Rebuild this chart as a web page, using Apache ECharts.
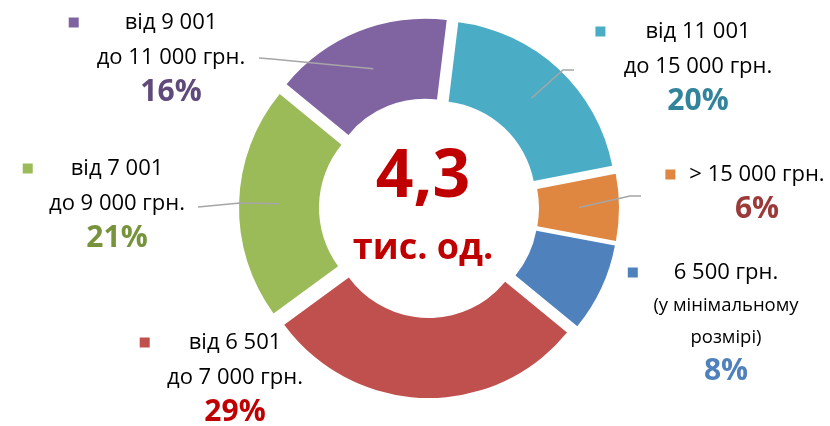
<!DOCTYPE html>
<html>
<head>
<meta charset="utf-8">
<script src="https://cdn.jsdelivr.net/npm/echarts@6/dist/echarts.min.js"></script>
<style>
  html, body { margin: 0; padding: 0; background: #fff; }
  #chart { width: 830px; height: 426px; }
</style>
</head>
<body>
<div id="chart"></div>
<script>
// slices, clockwise from the top
const categories = [
    ['від 11 001', 'до 15 000 грн.'],
    ['> 15 000 грн.'],
    ['6 500 грн.', '(у мінімальному', 'розмірі)'],
    ['від 6 501', 'до 7 000 грн.'],
    ['від 7 001', 'до 9 000 грн.'],
    ['від 9 001', 'до 11 000 грн.']
];
const shares = [20, 6, 8, 29, 21, 16];
const centerValue = '4,3';
const centerUnit = 'тис. од.';

const sliceColors = ['#4BACC6', '#DF8640', '#4F81BD', '#C0504D', '#9BBB59', '#8064A2'];
const pctColors = ['#31849B', '#9B3A38', '#4F81BD', '#C00000', '#77933C', '#604A7B'];

const FONT = '"Open Sans", "Noto Sans", sans-serif';
const CX = 429, CY = 208, R_IN = 99, R_OUT = 179, OFFSET = 11, ROT = 7;

// label block: text centre x, top y, gap between key and text
const labelBox = [
    { x: 698, y: 14, gap: 40 },
    { x: 757, y: 157, gap: 14 },
    { x: 726, y: 255, gap: 36 },
    { x: 235, y: 325, gap: 39 },
    { x: 117, y: 151, gap: 38 },
    { x: 171, y: 5, gap: 46 }
];
// leader line end near the label (null = no line)
const leaderEnds = [
    [[563, 70], [574, 70]],
    [[630, 196], [641, 196]],
    null,
    null,
    [[240, 203], [198, 207]],
    [[272, 59], [259, 58]]
];

function midAngle(i) {
    const total = shares.reduce(function (a, b) { return a + b; }, 0);
    let acc = 0;
    for (let k = 0; k < i; k++) acc += shares[k];
    return (ROT + (acc + shares[i] / 2) / total * 360) * Math.PI / 180;
}

function buildLabel(i) {
    const lines = categories[i];
    const box = labelBox[i];
    const rows = [];
    lines.forEach(function (txt, k) {
        const style = (i === 2 && k > 0) ? 's' : 't';
        if (k === 0) rows.push('{m| }{g| }{' + style + '|' + txt + '}{g2| }');
        else rows.push('{' + style + '|' + txt + '}');
    });
    rows.push('{p|' + shares[i] + '%}');
    return {
        show: true,
        position: 'outside',
        formatter: rows.join('\n'),
        rich: {
            m: { backgroundColor: sliceColors[i], width: 10, height: 10, fontSize: 1, lineHeight: 35 },
            g: { width: box.gap, fontSize: 1, lineHeight: 35 },
            g2: { width: box.gap + 10, fontSize: 1, lineHeight: 35 },
            t: { fontFamily: FONT, fontSize: 22, color: '#000', lineHeight: 35 },
            s: { fontFamily: FONT, fontSize: 18.5, color: '#000', lineHeight: 32 },
            p: { fontFamily: FONT, fontSize: 30, fontWeight: 'bold', color: pctColors[i], lineHeight: 34 }
        }
    };
}

const chart = echarts.init(document.getElementById('chart'), null, { renderer: 'canvas' });

chart.setOption({
    animation: false,
    graphic: [
        { type: 'text', x: 423, y: 178, style: { text: centerValue, font: 'bold 66px ' + FONT, fill: '#C00000', align: 'center', verticalAlign: 'middle' } },
        { type: 'text', x: 423, y: 249, style: { text: centerUnit, font: 'bold 36px ' + FONT, fill: '#C00000', align: 'center', verticalAlign: 'middle' } }
    ],
    series: [{
        // exploded ring
        type: 'pie',
        z: 2,
        center: [CX, CY],
        radius: [R_IN, R_OUT],
        startAngle: 90 - ROT,
        clockwise: true,
        selectedMode: 'multiple',
        selectedOffset: OFFSET,
        emphasis: { disabled: true },
        itemStyle: { borderWidth: 0 },
        label: { show: false },
        labelLine: { show: false },
        data: shares.map(function (v, i) {
            return { value: v, name: categories[i].join(' '), selected: true, itemStyle: { color: sliceColors[i] } };
        })
    }, {
        // invisible copy carrying the labels and leader lines
        type: 'pie',
        z: 5,
        silent: true,
        center: [CX, CY],
        radius: [R_IN, R_OUT],
        startAngle: 90 - ROT,
        clockwise: true,
        avoidLabelOverlap: false,
        itemStyle: { color: 'rgba(0,0,0,0)', borderWidth: 0 },
        labelLine: { show: true, lineStyle: { color: '#A6A6A6', width: 1.5 }, length: 10, length2: 10 },
        labelLayout: function (params) {
            const i = params.dataIndex;
            const box = labelBox[i];
            const res = { x: box.x, y: box.y, align: 'center', verticalAlign: 'top' };
            if (leaderEnds[i]) {
                const a = midAngle(i);
                const rr = (R_IN + R_OUT) / 2 + OFFSET;
                const start = [CX + rr * Math.sin(a), CY - rr * Math.cos(a)];
                res.labelLinePoints = [start].concat(leaderEnds[i]);
            }
            return res;
        },
        data: shares.map(function (v, i) {
            return {
                value: v,
                name: categories[i].join(' '),
                label: buildLabel(i),
                labelLine: { show: !!leaderEnds[i] }
            };
        })
    }]
});
</script>
</body>
</html>
